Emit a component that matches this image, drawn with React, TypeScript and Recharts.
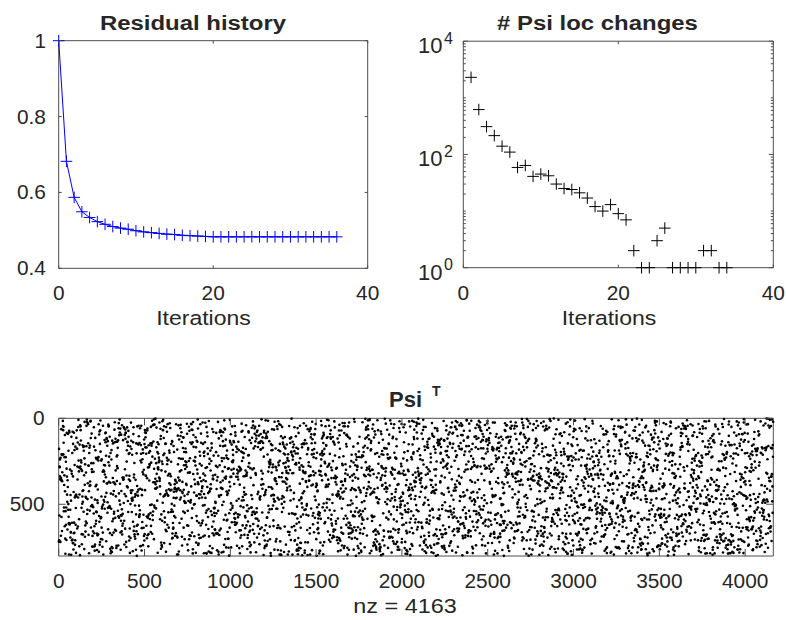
import React from 'react';
import {
    ComposedChart,
    ScatterChart,
    Line,
    Scatter,
    XAxis,
    YAxis,
    ReferenceArea,
} from 'recharts';

// ---- data ----
const residIterations = [0, 1, 2, 3, 4, 5, 6, 7, 8, 9, 10, 11, 12, 13, 14, 15, 16, 17, 18, 19, 20, 21, 22, 23, 24, 25, 26, 27, 28, 29, 30, 31, 32, 33, 34, 35, 36];
const residValues = [1.0, 0.682, 0.587, 0.549, 0.534, 0.523, 0.516, 0.51, 0.506, 0.503, 0.499, 0.496, 0.494, 0.492, 0.49, 0.489, 0.487, 0.486, 0.485, 0.484, 0.483, 0.483, 0.483, 0.483, 0.483, 0.483, 0.483, 0.483, 0.483, 0.483, 0.483, 0.483, 0.483, 0.483, 0.483, 0.483, 0.483];

const changeIterations = [1, 2, 3, 4, 5, 6, 7, 8, 9, 10, 11, 12, 13, 14, 15, 16, 17, 18, 19, 20, 21, 22, 23, 24, 25, 26, 27, 28, 29, 30, 31, 32, 33, 34];
const changeCounts = [2300, 620, 310, 215, 140, 110, 59, 64, 41, 45, 42, 30, 25, 24, 21, 17, 12, 10, 13, 9, 7, 2, 1, 1, 3, 5, 1, 1, 1, 1, 2, 2, 1, 1];

const iterTicks = [0, 20, 40];
const residTicks = [0.4, 0.6, 0.8, 1];
const logMajor = [1, 100, 10000];
const logTicks = [1, 2, 3, 4, 5, 6, 7, 8, 9, 10, 20, 30, 40, 50, 60, 70, 80, 90, 100, 200, 300, 400, 500, 600, 700, 800, 900, 1000, 2000, 3000, 4000, 5000, 6000, 7000, 8000, 9000, 10000];
const logLabels: Record<number, string> = { 1: '0', 100: '2', 10000: '4' };

// spy(Psi'): 800 rows x 4163 columns, one nonzero per column (nz = 4163)
const spyCols = 4163;
const spyRows = 800;
const spyXTicks = [0, 500, 1000, 1500, 2000, 2500, 3000, 3500, 4000];
const spyYTicks = [0, 500];
// the single dots can't be read one by one, so the row of each column's
// nonzero is a fixed scrambled sequence standing in for the pattern
const spyRowOf: number[] = [];
let seed = 4163;
for (let c = 0; c < spyCols; c++) {
    seed = (seed * 1103515245 + 12345) % 2147483648;
    spyRowOf.push(1 + (Math.floor(seed / 65536) % spyRows));
}

const residData = residIterations.map((it, i) => ({ it, res: residValues[i] }));
const changeData = changeIterations.map((it, i) => ({ it, n: changeCounts[i] }));
const spyData = spyRowOf.map((row, i) => ({ col: i + 1, row }));

// ---- layout ----
const W = 786;
const H = 620;
const YW = 50;
const XH = 40;
const INK = '#262626';
const BOX = '#4d4d4d';
const FONT = '"Liberation Sans", Arial, Helvetica, sans-serif';

type Box = { x0: number; x1: number; y0: number; y1: number };
const P1: Box = { x0: 58.7, x1: 367.7, y0: 40.7, y1: 268.3 };
const P2: Box = { x0: 463.3, x1: 773.3, y0: 41.2, y1: 267.7 };
const P3: Box = { x0: 58.7, x1: 773.3, y0: 418.3, y1: 556 };

const marginFor = (b: Box) => ({ top: b.y0, left: b.x0 - YW, right: W - b.x1, bottom: H - b.y1 - XH });

const SText = ({ x, y, sx = 1, anchor = 'middle', size = 19.5, bold = false, children }: any) => (
    <text
        x={x}
        y={y}
        textAnchor={anchor}
        fontSize={size}
        fontWeight={bold ? 'bold' : 'normal'}
        fill={INK}
        fontFamily={FONT}
        transform={sx !== 1 ? `translate(${x} ${y}) scale(${sx} 1) translate(${-x} ${-y})` : undefined}
    >
        {children}
    </text>
);

// MATLAB style ticks: pointing inwards, mirrored on the opposite side
const xTick = (b: Box, len: number, labelDy: number) => (p: any) => (
    <g>
        <line x1={p.x} x2={p.x} y1={b.y1} y2={b.y1 - len} stroke={BOX} />
        <line x1={p.x} x2={p.x} y1={b.y0} y2={b.y0 + len} stroke={BOX} />
        <SText x={p.x} y={b.y1 + labelDy} sx={1.07}>{p.payload.value}</SText>
    </g>
);

const yTick = (b: Box, len: number, labelRight: number) => (p: any) => (
    <g>
        <line x1={b.x0} x2={b.x0 + len} y1={p.y} y2={p.y} stroke={BOX} />
        <line x1={b.x1} x2={b.x1 - len} y1={p.y} y2={p.y} stroke={BOX} />
        <SText x={labelRight} y={p.y + 7} anchor="end" sx={1.07}>{p.payload.value}</SText>
    </g>
);

const logTick = (b: Box) => (p: any) => {
    const v = p.payload.value;
    const major = logMajor.includes(v);
    const len = major ? 4.5 : 2.5;
    return (
        <g>
            <line x1={b.x0} x2={b.x0 + len} y1={p.y} y2={p.y} stroke={BOX} />
            <line x1={b.x1} x2={b.x1 - len} y1={p.y} y2={p.y} stroke={BOX} />
            {major && (
                <text x={453} y={p.y + 12} textAnchor="end" fill={INK} fontFamily={FONT}>
                    <tspan fontSize={22}>10</tspan>
                    <tspan fontSize={16} dx={1.5} dy={-9.5}>{logLabels[v]}</tspan>
                </text>
            )}
        </g>
    );
};

const plus = (color: string) => (p: any) => {
    if (p.cx == null || p.cy == null) return <g />;
    const r = 5.8;
    return (
        <path
            d={`M${p.cx - r},${p.cy}H${p.cx + r}M${p.cx},${p.cy - r}V${p.cy + r}`}
            stroke={color}
            strokeWidth={1}
            fill="none"
        />
    );
};

const dot = (p: any) => <circle cx={p.cx} cy={p.cy} r={1.3} fill="#000" />;

const layer: React.CSSProperties = { position: 'absolute', left: 0, top: 0 };

export default function App() {
    return (
        <div style={{ position: 'absolute', left: 0, top: 0, width: W, height: H, background: '#fff' }}>
            <div style={layer}>
                <ComposedChart width={W} height={H} data={residData} margin={marginFor(P1)}>
                    <XAxis dataKey="it" type="number" domain={[0, 40]} ticks={iterTicks} interval={0}
                        height={XH} axisLine={false} tickLine={false} tick={xTick(P1, 3, 31.7)} />
                    <YAxis type="number" domain={[0.4, 1]} ticks={residTicks} interval={0}
                        width={YW} axisLine={false} tickLine={false} tick={yTick(P1, 3, 46)} />
                    <Line dataKey="res" type="linear" stroke="#0000ff" strokeWidth={1}
                        dot={plus('#0000ff')} activeDot={false} isAnimationActive={false} />
                    <ReferenceArea x1={0} x2={40} y1={0.4} y2={1} fill="none" stroke={BOX} strokeWidth={1} />
                </ComposedChart>
            </div>
            <div style={layer}>
                <ScatterChart width={W} height={H} margin={marginFor(P2)}>
                    <XAxis dataKey="it" type="number" domain={[0, 40]} ticks={iterTicks} interval={0}
                        height={XH} axisLine={false} tickLine={false} tick={xTick(P2, 3, 32.3)} />
                    <YAxis dataKey="n" type="number" scale="log" domain={[1, 10000]}
                        ticks={logTicks} interval={0} width={YW} axisLine={false} tickLine={false} tick={logTick(P2)} />
                    <Scatter data={changeData} shape={plus('#000000')} isAnimationActive={false} />
                    <ReferenceArea x1={0} x2={40} y1={1} y2={10000} fill="none" stroke={BOX} strokeWidth={1} />
                </ScatterChart>
            </div>
            <div style={layer}>
                <ScatterChart width={W} height={H} margin={marginFor(P3)}>
                    <XAxis dataKey="col" type="number" domain={[0, spyCols + 1]} ticks={spyXTicks} interval={0}
                        height={XH} axisLine={false} tickLine={false} tick={xTick(P3, 7, 32)} />
                    <YAxis dataKey="row" type="number" domain={[0, spyRows + 1]} reversed ticks={spyYTicks} interval={0}
                        width={YW} axisLine={false} tickLine={false} tick={yTick(P3, 7, 44.5)} />
                    <Scatter data={spyData} shape={dot} isAnimationActive={false} />
                    <ReferenceArea x1={0} x2={spyCols + 1} y1={0} y2={spyRows + 1} fill="none" stroke={BOX} strokeWidth={1} />
                </ScatterChart>
            </div>
            <svg width={W} height={H} style={{ ...layer, pointerEvents: 'none' }}>
                <SText x={193} y={30} size={21} bold sx={1.14}>Residual history</SText>
                <SText x={597.5} y={30} size={21} bold sx={1.14}># Psi loc changes</SText>
                <SText x={203.5} y={325} sx={1.18}>Iterations</SText>
                <SText x={609} y={325} sx={1.18}>Iterations</SText>
                <text x={389} y={406.7} fontSize={22} fontWeight="bold" fill={INK} fontFamily={FONT}>
                    Psi
                    <tspan x={432} y={395.5} fontSize={14}>T</tspan>
                </text>
                <SText x={405} y={613} sx={1.2}>nz = 4163</SText>
            </svg>
        </div>
    );
}
